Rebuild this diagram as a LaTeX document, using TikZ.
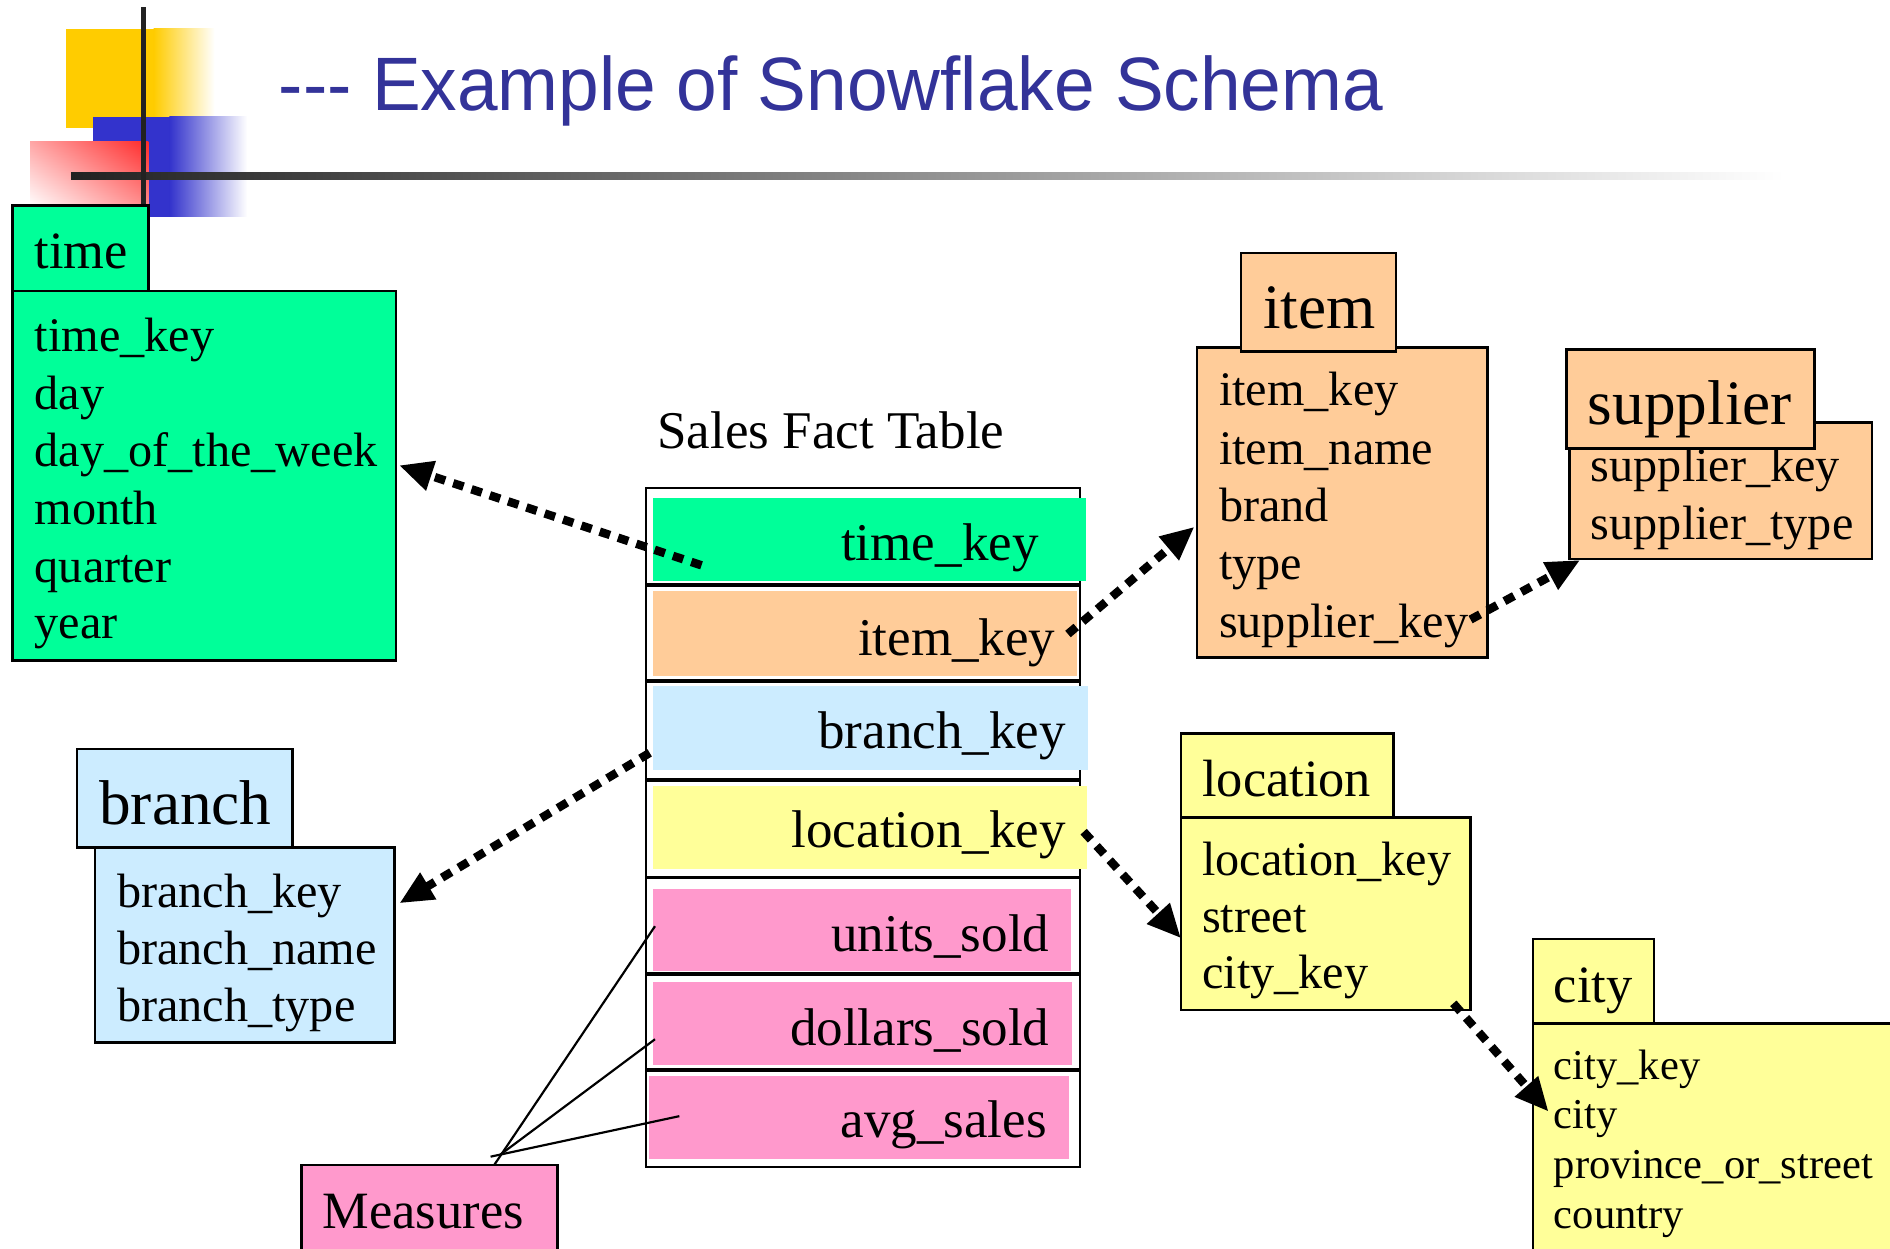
\documentclass[tikz,border=0pt]{standalone}
\usepackage{fontspec}
\setmainfont{Liberation Serif}
\newfontfamily\titlefont{Liberation Sans}
\usetikzlibrary{arrows.meta,fit,shadings}
\definecolor{cgreen}{HTML}{00FF99}
\definecolor{corange}{HTML}{FFCC99}
\definecolor{cblue}{HTML}{CCECFF}
\definecolor{cyellow}{HTML}{FFFF99}
\definecolor{cpink}{HTML}{FF99CC}
\definecolor{ctitle}{HTML}{333399}
\definecolor{dyellow}{HTML}{FFCC00}
\definecolor{dblue}{HTML}{3333CC}
\definecolor{dred}{HTML}{FF2A2A}
\definecolor{dline}{HTML}{222222}
\begin{document}
\begin{tikzpicture}[x=0.5pt,y=-0.5pt,
  tbl/.style={draw=black, line width=1pt, inner sep=0pt, outer sep=0pt},
  rowbox/.style={draw=black, line width=1pt, inner sep=0pt, outer sep=0pt},
  rowfill/.style={inner sep=0pt, outer sep=0pt},
  txt/.style={anchor=base west, inner sep=0pt, yshift=-1pt, font=\fontsize{20}{24}\selectfont},
  ctxt/.style={anchor=base west, inner sep=0pt, yshift=-1pt, font=\fontsize{17.65}{21}\selectfont},
  hdr/.style={anchor=base west, inner sep=0pt, yshift=-1pt, font=\fontsize{21.75}{26}\selectfont},
  bighdr/.style={anchor=base west, inner sep=0pt, yshift=-1pt, font=\fontsize{26.25}{31}\selectfont},
  facttxt/.style={anchor=base east, inner sep=0pt, yshift=-1pt, font=\fontsize{22}{26}\selectfont},
  link/.style={line width=3.5pt, dash pattern=on 4.5pt off 3.5pt, -{Triangle[length=14pt,width=12pt]}},
  measline/.style={line width=0.9pt}
]
\useasboundingbox (0,0) rectangle (1568,1036);
\clip (0,0) rectangle (1568,1036);

% ---------- decoration ----------
\fill[dyellow] (55,24) rectangle (128,106);
\shade[left color=dyellow, right color=white] (127.5,24) rectangle (178,106);
\fill[dblue] (77,97) rectangle (141,180);
\shade[left color=dblue, right color=white] (140.5,97) rectangle (205,180);
\shade[upper left=red!35, upper right=dred, lower left=white, lower right=red!45] (25,117) rectangle (123,172);
\shade[left color=dline, right color=white] (59,143) rectangle (1480,149);
\fill[dline] (117,5.5) rectangle (121.5,171);

% ---------- title ----------
\node[anchor=base west, inner sep=0pt, text=ctitle, font=\titlefont\fontsize{31.4}{36}\selectfont] (title) at (231,92)
  {\scalebox{0.965}[1]{-\kern0pt-\kern0pt- Example of Snowflake Schema}};

% ---------- time ----------
\node[tbl, fill=cgreen, fit={(10.5,241.4)(328.5,548)}] (timebody) {};
\node[tbl, fill=cgreen, fit={(10.5,170.6)(123.3,241.4)}] (timehead) {};
\node[hdr] (timet) at (28.5,221) {time};
\node[txt] (t1) at (28.5,289.5) {time\_key};
\node[txt] (t2) at (28.5,337.4) {day};
\node[txt] (t3) at (28.5,385) {day\_of\_the\_week};
\node[txt] (t4) at (28.5,432.8) {month};
\node[txt] (t5) at (28.5,481) {quarter};
\node[txt] (t6) at (28.5,528) {year};

% ---------- item ----------
\node[tbl, fill=corange, fit={(993,288.4)(1234,545.6)}] (itembody) {};
\node[tbl, fill=corange, fit={(1029.6,210)(1158,291.7)}] (itemhead) {};
\node[bighdr] (itemt) at (1047.5,270.4) {item};
\node[txt] (i1) at (1011,334.6) {item\_key};
\node[txt] (i2) at (1011,383) {item\_name};
\node[txt] (i3) at (1011,430.8) {brand};
\node[txt] (i4) at (1011,478.4) {type};
\node[txt] (i5) at (1011,526.8) {supplier\_key};

% ---------- supplier ----------
\node[tbl, fill=corange, fit={(1302,350.6)(1553,464)}] (supbody) {};
\node[txt] (s1) at (1319.5,397.6) {supplier\_key};
\node[txt] (s2) at (1319.5,445.2) {supplier\_type};
\node[tbl, fill=corange, fit={(1299.5,289.8)(1505.3,372)}] (suphead) {};
\node[bighdr] (supt) at (1317,349.8) {supplier};

% ---------- branch ----------
\node[tbl, fill=cblue, fit={(78.7,703.2)(327.4,865)}] (brbody) {};
\node[tbl, fill=cblue, fit={(64,621.6)(242.7,703.2)}] (brhead) {};
\node[bighdr] (brt) at (82,681.7) {branch};
\node[txt] (b1) at (96.8,750.8) {branch\_key};
\node[txt] (b2) at (96.8,797.8) {branch\_name};
\node[txt] (b3) at (96.8,845.6) {branch\_type};

% ---------- location ----------
\node[tbl, fill=cyellow, fit={(979.8,678.3)(1219.9,837.9)}] (locbody) {};
\node[tbl, fill=cyellow, fit={(979.8,608.4)(1156.2,678.3)}] (lochead) {};
\node[hdr] (loct) at (997,658.7) {location};
\node[txt] (l1) at (997,724.5) {location\_key};
\node[txt] (l2) at (997,772) {street};
\node[txt] (l3) at (997,818.5) {city\_key};

% ---------- city ----------
\node[tbl, fill=cyellow, fit={(1272,849)(1620,1100)}] (citybody) {};
\node[tbl, fill=cyellow, fit={(1272,779)(1372,849)}] (cityhead) {};
\node[hdr] (cityt) at (1288.7,829.6) {city};
\node[ctxt] (c1) at (1288.7,893.2) {city\_key};
\node[ctxt] (c2) at (1288.7,934.5) {city};
\node[ctxt] (c3) at (1288.7,976) {province\_or\_street};
\node[ctxt] (c4) at (1288.7,1017) {country};

% ---------- fact table ----------
\node[anchor=base west, inner sep=0pt, yshift=-1pt, font=\fontsize{22}{26}\selectfont] (facttitle) at (545,370) {Sales Fact Table};
\node[rowbox, fit={(536,405)(896,485)}] (r1) {};
\node[rowbox, fit={(536,485)(896,565)}] (r2) {};
\node[rowbox, fit={(536,565)(896,647)}] (r3) {};
\node[rowbox, fit={(536,647)(896,728)}] (r4) {};
\node[rowbox, fit={(536,728)(896,808)}] (r5) {};
\node[rowbox, fit={(536,808)(896,888)}] (r6) {};
\node[rowbox, fit={(536,888)(896,968)}] (r7) {};
\foreach \yy in {485,565,647,728,808,888}
  \draw[line width=1.6pt] (536,\yy) -- (896,\yy);

\node[rowfill, fill=cgreen, fit={(541.5,413.3)(901,482)}] (f1) {};
\node[rowfill, fill=corange, fit={(541.5,490.6)(893.9,560.8)}] (f2) {};
\node[rowfill, fill=cblue, fit={(541.5,569)(902.8,638.5)}] (f3) {};
\node[rowfill, fill=cyellow, fit={(541.5,652)(901.7,721)}] (f4) {};
\node[rowfill, fill=cpink, fit={(541.5,737.6)(888.3,805.9)}] (f5) {};
\node[rowfill, fill=cpink, fit={(541.5,815)(889,883.6)}] (f6) {};
\node[rowfill, fill=cpink, fit={(538.4,893)(886.5,961.3)}] (f7) {};

\node[facttxt] (k1) at (862,463) {time\_key};
\node[facttxt] (k2) at (876,542) {item\_key};
\node[facttxt] (k3) at (884.5,619) {branch\_key};
\node[facttxt] (k4) at (884.5,701.5) {location\_key};
\node[facttxt] (k5) at (871,787) {units\_sold};
\node[facttxt] (k6) at (871,865) {dollars\_sold};
\node[facttxt] (k7) at (868.8,942) {avg\_sales};

% ---------- measures ----------
\node[tbl, fill=cpink, fit={(250,966.5)(462.5,1100)}] (measures) {};
\node[hdr] (meast) at (267.4,1017.6) {Measures};
\coordinate (m0) at (410,966.5);
\coordinate (m1) at (415,958);
\coordinate (m2) at (407,959.6);
\coordinate (mu) at (543.4,768.4);
\coordinate (md) at (543.4,862.2);
\coordinate (ma) at (563.6,926);
\draw[measline] (m0) -- (mu);
\draw[measline] (m1) -- (md);
\draw[measline] (m2) -- (ma);

% ---------- links ----------
\coordinate (a1s) at (582,469);   \coordinate (a1e) at (331,386);
\coordinate (a2s) at (886,526);   \coordinate (a2e) at (991,437);
\coordinate (a3s) at (1220,514);  \coordinate (a3e) at (1311,464.6);
\coordinate (a4s) at (539,624.6); \coordinate (a4e) at (331.3,749.4);
\coordinate (a5s) at (899,690);   \coordinate (a5e) at (979.8,778.4);
\coordinate (a6s) at (1205.7,832.4); \coordinate (a6e) at (1284.8,922.3);
\draw[link] (a1s) -- (a1e);
\draw[link] (a2s) -- (a2e);
\draw[link] (a3s) -- (a3e);
\draw[link] (a4s) -- (a4e);
\draw[link] (a5s) -- (a5e);
\draw[link] (a6s) -- (a6e);
\end{tikzpicture}
\end{document}
